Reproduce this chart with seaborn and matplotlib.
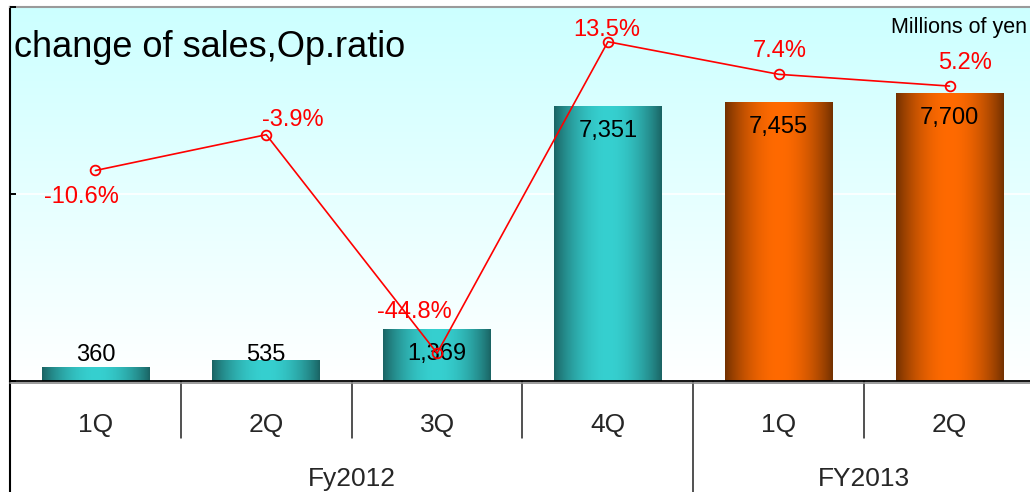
import numpy as np
import pandas as pd
import matplotlib
matplotlib.use("Agg")
import matplotlib.pyplot as plt
import matplotlib.transforms as mtransforms
from matplotlib.colors import to_rgb
import seaborn as sns

# ---- data -------------------------------------------------------------
quarters = ["1Q", "2Q", "3Q", "4Q", "1Q", "2Q"]
fiscal_years = ["Fy2012", "Fy2012", "Fy2012", "Fy2012", "FY2013", "FY2013"]
year_names = ["Fy2012", "FY2013"]
sales = [360, 535, 1369, 7351, 7455, 7700]            # millions of yen
op_ratio = [-10.6, -3.9, -44.8, 13.5, 7.4, 5.2]        # %
sales_labels = ["360", "535", "1,369", "7,351", "7,455", "7,700"]
ratio_labels = ["-10.6%", "-3.9%", "-44.8%", "13.5%", "7.4%", "5.2%"]

# ---- style ------------------------------------------------------------
sns.set_style("white")
plt.rcParams["font.family"] = ["Liberation Sans", "DejaVu Sans"]

W, H = 1030, 492
fig = plt.figure(figsize=(W / 100, H / 100), dpi=100)
fig.patch.set_facecolor("white")

pos = [10 / W, (H - 381) / H, (1035 - 10) / W, (381 - 7) / H]

# vertical background wash behind the plot area
bg = fig.add_axes(pos, zorder=-1)
top_c = np.array(to_rgb("#ccffff"))
bot_c = np.array(to_rgb("#ffffff"))
tt = np.linspace(0, 1, 256)[:, None]
wash = top_c * (1 - tt) + bot_c * tt
bg.imshow(wash[:, None, :].repeat(2, axis=1), aspect="auto",
          extent=[0, 1, 0, 1], interpolation="bilinear")
bg.set_xlim(0, 1)
bg.set_ylim(0, 1)
bg.axis("off")

ax = fig.add_axes(pos)
ax.patch.set_alpha(0)
ax.set_axisbelow(False)

periods = [f"{y} {q}" for y, q in zip(fiscal_years, quarters)]
df = pd.DataFrame({"period": periods, "sales": sales, "year": fiscal_years,
                   "ratio": op_ratio, "pos": np.arange(len(periods))})

mid_cols = {"Fy2012": "#33cccc", "FY2013": "#ff6600"}
shades = {"Fy2012": ("#1a6262", "#36d0d0"), "FY2013": ("#703000", "#ff6a00")}

sns.barplot(data=df, x="period", y="sales", hue="year", order=periods,
            hue_order=year_names, palette=mid_cols, dodge=False, width=0.63,
            legend=False, ax=ax, saturation=1)

# cylinder-like horizontal shading on every bar
t = np.linspace(0, 1, 300)
prof = np.sin(np.pi * t) ** 0.85
for p in list(ax.patches):
    h = p.get_height()
    if not np.isfinite(h) or h == 0:
        continue
    fc = np.array(p.get_facecolor()[:3])
    year = min(year_names, key=lambda k: np.abs(np.array(to_rgb(mid_cols[k])) - fc).sum())
    dark, bright = (np.array(to_rgb(c)) for c in shades[year])
    img = dark[None, :] + (bright - dark)[None, :] * prof[:, None]
    x0 = p.get_x()
    ax.imshow(img[None, :, :], extent=[x0, x0 + p.get_width(), 0, h],
              aspect="auto", interpolation="bilinear", zorder=2)
    p.set_visible(False)

ax.set_xlim(-0.5, len(periods) - 0.5)
ax.set_ylim(0, 10000)
ax.axhline(5000, color="white", lw=1.2, zorder=0.3)

# sales value labels
for i, (v, s) in enumerate(zip(sales, sales_labels)):
    ax.text(i, max(v - 660, 700), s, ha="center", va="center",
            fontsize=17, color="black", zorder=4)

# axes frame
ax.set_yticks([0, 5000, 10000])
ax.set_yticklabels([])
ax.tick_params(axis="y", direction="in", length=4.5, width=1.4, color="black")
ax.set_xticks([])
ax.set_xlabel("")
ax.set_ylabel("")
for side in ["left", "bottom", "top", "right"]:
    ax.spines[side].set_visible(True)
ax.spines["left"].set_color("black")
ax.spines["left"].set_linewidth(1.5)
ax.spines["bottom"].set_color("black")
ax.spines["bottom"].set_linewidth(1.3)
ax.spines["top"].set_color("#9a9a9a")
ax.spines["top"].set_linewidth(1.5)
ax.spines["right"].set_visible(False)
shadow = mtransforms.offset_copy(ax.transAxes, fig=fig, y=-2, units="dots")
ax.plot([0, 1], [0, 0], transform=shadow, color="#8a8a8a", lw=1.2,
        clip_on=False, zorder=5)

# category axis: quarter row and fiscal-year row with dividers
xt = ax.get_xaxis_transform()
ax.plot([-0.5, -0.5], [0, -0.35], transform=xt, color="black", lw=1.5,
        clip_on=False)
for i in range(1, len(periods)):
    long = fiscal_years[i] != fiscal_years[i - 1]
    ax.plot([i - 0.5, i - 0.5], [0, -0.35 if long else -0.153], transform=xt,
            color="#222222", lw=1.1, clip_on=False)
for i, q in enumerate(quarters):
    ax.text(i, -0.118, q, transform=xt, ha="center", va="center", fontsize=19)
for yname in year_names:
    idx = [i for i, y in enumerate(fiscal_years) if y == yname]
    ax.text(np.mean(idx), -0.262, yname, transform=xt, ha="center",
            va="center", fontsize=19)

# operating ratio line on a secondary scale
ax2 = ax.twinx()
sns.lineplot(data=df, x="pos", y="ratio", ax=ax2, color="#ff0000", lw=1.2,
             marker="o", markersize=7, markerfacecolor="none",
             markeredgecolor="#ff0000", markeredgewidth=1.3, sort=False,
             zorder=6)
ax2.set_ylim(-50, 20)
ax2.set_xlim(-0.5, len(periods) - 0.5)
ax2.set_yticks([])
ax2.set_ylabel("")
ax2.set_xlabel("")
for s in ax2.spines.values():
    s.set_visible(False)

offsets = [(-14, -27), (27, 15), (-23, 41), (-1, 12), (1, 23), (15, 23)]
for i, (r, lab, off) in enumerate(zip(op_ratio, ratio_labels, offsets)):
    ax2.annotate(lab, (i, r), xytext=off, textcoords="offset pixels",
                 ha="center", va="center", fontsize=17, color="#ff0000",
                 zorder=7)

# titles
fig.text(14 / W, 1 - 57 / H, "change of sales,Op.ratio", fontsize=26,
         ha="left", va="baseline", color="black")
fig.text(1027 / W, 1 - 33 / H, "Millions of yen", fontsize=15.5,
         ha="right", va="baseline", color="black")

fig.savefig("out.png", dpi=100)
